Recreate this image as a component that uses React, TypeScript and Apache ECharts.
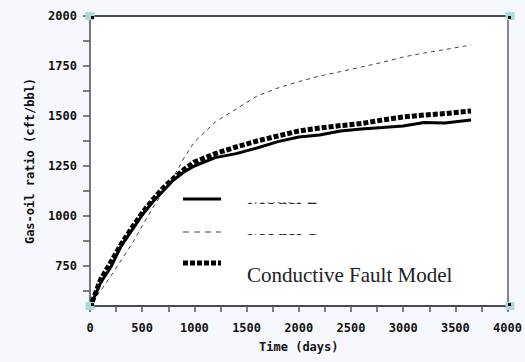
import React, { useEffect, useRef } from "react";
import * as echarts from "echarts";

const times = [20, 100, 200, 300, 400, 500, 600, 700, 800, 900, 1000, 1200, 1400, 1600, 1800, 2000, 2200, 2400, 2600, 2800, 3000, 3200, 3400, 3650];
const model2 = [570, 665, 745, 852, 928, 1005, 1070, 1125, 1180, 1220, 1250, 1292, 1312, 1340, 1372, 1395, 1405, 1425, 1435, 1442, 1450, 1468, 1465, 1480];
const model1 = [570, 625, 700, 780, 860, 950, 1040, 1120, 1195, 1290, 1370, 1470, 1535, 1600, 1640, 1672, 1700, 1722, 1745, 1768, 1795, 1815, 1832, 1855];
const conductive = [570, 680, 770, 860, 940, 1015, 1080, 1140, 1188, 1232, 1270, 1312, 1345, 1375, 1400, 1425, 1440, 1452, 1462, 1480, 1495, 1505, 1512, 1525];

const xLabels = [0, 500, 1000, 1500, 2000, 2500, 3000, 3500, 4000];
const xTicks = [0, 250, 500, 750, 1000, 1250, 1500, 1750, 2000, 2250, 2500, 2750, 3000, 3250, 3500, 3750, 4000];
const yLabels = [750, 1000, 1250, 1500, 1750, 2000];
const yTicks = [625, 750, 875, 1000, 1125, 1250, 1375, 1500, 1625, 1750, 1875, 2000];

const legendNames = ["Model 2", "Model 1", "Conductive Fault Model"];

const pair = (vals: number[]) => times.map((t, i) => [t, vals[i]]);

export default function App() {
  const ref = useRef<HTMLDivElement>(null);
  useEffect(() => {
    document.body.style.margin = "0";
    const chart = echarts.init(ref.current!, null, { renderer: "svg" });
    const mono = "DejaVu Sans Mono";
    const labelStyle = { fontFamily: mono, fontWeight: "bold" as const, fontSize: 12, color: "#111" };
    const L = 90, T = 16, R = 510, B = 306;
    const corner = (x: number, y: number) => [
      { type: "rect", shape: { x: x - 4.5, y: y - 4, width: 9, height: 8 }, style: { fill: "#a9d9da" }, z: 10 },
      { type: "rect", shape: { x: x + (x === L ? 1 : -2), y: y + (y === T ? 0 : -3), width: 3, height: 3 }, style: { fill: "#000" }, z: 11 },
    ];
    const fmt = (v: number) => String(v);
    chart.setOption({
      animation: false,
      backgroundColor: "#f7f8fd",
      grid: { left: L, top: T, right: 525 - R, bottom: 362 - B, show: true, backgroundColor: "#fff", borderWidth: 0 },
      xAxis: [
        {
          type: "value", min: 0, max: 4000, position: "bottom",
          name: "Time (days)", nameLocation: "middle", nameGap: 35,
          nameTextStyle: labelStyle,
          axisLine: { show: true, lineStyle: { color: "#111", width: 1.5 } },
          axisTick: { show: true, length: 6, customValues: xTicks, lineStyle: { color: "#555", width: 1.5 } },
          axisLabel: { ...labelStyle, margin: 16, customValues: xLabels, formatter: fmt },
          splitLine: { show: false },
        },
        {
          type: "value", min: 0, max: 4000, position: "top",
          axisLine: { show: true, onZero: false, lineStyle: { color: "#111", width: 1.5 } },
          axisTick: { show: false }, axisLabel: { show: false }, splitLine: { show: false },
        },
      ],
      yAxis: [
        {
          type: "value", min: 550, max: 2000, position: "left",
          name: "Gas-oil ratio (cft/bbl)", nameLocation: "middle", nameGap: 54,
          nameTextStyle: labelStyle,
          axisLine: { show: true, lineStyle: { color: "#777", width: 2 } },
          axisTick: { show: true, length: 7, customValues: yTicks, lineStyle: { color: "#555", width: 1.5 } },
          axisLabel: { ...labelStyle, margin: 13, customValues: yLabels, formatter: fmt },
          splitLine: { show: false },
        },
        {
          type: "value", min: 550, max: 2000, position: "right",
          axisLine: { show: true, onZero: false, lineStyle: { color: "#888", width: 2 } },
          axisTick: { show: false }, axisLabel: { show: false }, splitLine: { show: false },
        },
      ],
      series: [
        {
          name: legendNames[1], type: "line", data: pair(model1), showSymbol: false, smooth: false,
          lineStyle: { color: "#444", width: 1, type: [4, 4] },
        },
        {
          name: legendNames[0], type: "line", data: pair(model2), showSymbol: false,
          lineStyle: { color: "#000", width: 3 },
        },
        {
          name: legendNames[2], type: "line", data: pair(conductive), showSymbol: false,
          lineStyle: { color: "#000", width: 5, type: [5, 2], cap: "butt" },
        },
      ],
      graphic: [
        ...corner(L, T), ...corner(R, T), ...corner(L, B), ...corner(R, B),
        { type: "line", shape: { x1: 183, y1: 199, x2: 221, y2: 199 }, style: { stroke: "#000", lineWidth: 3 }, z: 5 },
        { type: "line", shape: { x1: 183, y1: 232, x2: 221, y2: 232 }, style: { stroke: "#444", lineWidth: 1, lineDash: [6, 5] }, z: 5 },
        { type: "line", shape: { x1: 183, y1: 263, x2: 221, y2: 263 }, style: { stroke: "#000", lineWidth: 5, lineDash: [5, 2] }, z: 5 },
        { type: "text", x: 247, y: 207, style: { text: legendNames[0], font: "21px 'Liberation Serif'", fill: "#222", textVerticalAlign: "bottom" }, z: 5 },
        { type: "text", x: 247, y: 238.5, style: { text: legendNames[1], font: "21px 'Liberation Serif'", fill: "#222", textVerticalAlign: "bottom" }, z: 5 },
        { type: "rect", shape: { x: 240, y: 182, width: 90, height: 20.5 }, style: { fill: "#fff" }, z: 6 },
        { type: "rect", shape: { x: 240, y: 213, width: 90, height: 21 }, style: { fill: "#fff" }, z: 6 },
        { type: "text", x: 247, y: 285, style: { text: legendNames[2], font: "21px 'Liberation Serif'", fill: "#222", textVerticalAlign: "bottom" }, z: 5 },
      ],
    });
    return () => chart.dispose();
  }, []);
  return <div ref={ref} style={{ width: 525, height: 362 }} />;
}
